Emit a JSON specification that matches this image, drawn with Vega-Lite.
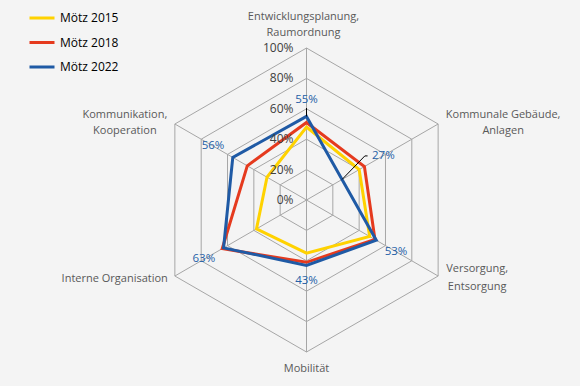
{
  "$schema": "https://vega.github.io/schema/vega-lite/v6.json",
  "width": 580,
  "height": 386,
  "autosize": {"type": "none"},
  "padding": 0,
  "background": "#F4F4F4",
  "config": {"view": {"stroke": null}, "font": "Open Sans"},
  "datasets": {
    "scores": [
      {"series": "Mötz 2015", "idx": 0, "value": 0.48},
      {"series": "Mötz 2015", "idx": 1, "value": 0.40},
      {"series": "Mötz 2015", "idx": 2, "value": 0.48},
      {"series": "Mötz 2015", "idx": 3, "value": 0.35},
      {"series": "Mötz 2015", "idx": 4, "value": 0.38},
      {"series": "Mötz 2015", "idx": 5, "value": 0.30},
      {"series": "Mötz 2018", "idx": 0, "value": 0.51},
      {"series": "Mötz 2018", "idx": 1, "value": 0.44},
      {"series": "Mötz 2018", "idx": 2, "value": 0.52},
      {"series": "Mötz 2018", "idx": 3, "value": 0.41},
      {"series": "Mötz 2018", "idx": 4, "value": 0.64},
      {"series": "Mötz 2018", "idx": 5, "value": 0.45},
      {"series": "Mötz 2022", "idx": 0, "value": 0.55},
      {"series": "Mötz 2022", "idx": 1, "value": 0.27},
      {"series": "Mötz 2022", "idx": 2, "value": 0.53},
      {"series": "Mötz 2022", "idx": 3, "value": 0.43},
      {"series": "Mötz 2022", "idx": 4, "value": 0.63},
      {"series": "Mötz 2022", "idx": 5, "value": 0.56}
    ],
    "axes": [
      {"idx": 0, "label": "Entwicklungsplanung,\nRaumordnung"},
      {"idx": 1, "label": "Kommunale Gebäude,\nAnlagen"},
      {"idx": 2, "label": "Versorgung,\nEntsorgung"},
      {"idx": 3, "label": "Mobilität"},
      {"idx": 4, "label": "Interne Organisation"},
      {"idx": 5, "label": "Kommunikation,\nKooperation"}
    ],
    "rings": [
      {"level": 0.2, "k": [0, 1, 2, 3, 4, 5]},
      {"level": 0.4, "k": [0, 1, 2, 3, 4, 5]},
      {"level": 0.6, "k": [0, 1, 2, 3, 4, 5]},
      {"level": 0.8, "k": [0, 1, 2, 3, 4, 5]},
      {"level": 1.0, "k": [0, 1, 2, 3, 4, 5]}
    ],
    "ticks": [
      {"level": 0}, {"level": 0.2}, {"level": 0.4}, {"level": 0.6}, {"level": 0.8}, {"level": 1.0}
    ]
  },
  "encoding": {
    "x": {"field": "px", "type": "quantitative", "scale": {"domain": [-2.01645, 1.79934], "nice": false, "zero": false}, "axis": null},
    "y": {"field": "py", "type": "quantitative", "scale": {"domain": [-1.22368, 1.31579], "nice": false, "zero": false}, "axis": null}
  },
  "layer": [
    {
      "data": {"name": "rings"},
      "transform": [
        {"flatten": ["k"]},
        {"calculate": "datum.level * sin(datum.k * PI / 3)", "as": "px"},
        {"calculate": "datum.level * cos(datum.k * PI / 3)", "as": "py"}
      ],
      "mark": {"type": "line", "interpolate": "linear-closed", "stroke": "#A6A6A6", "strokeWidth": 1},
      "encoding": {"detail": {"field": "level", "type": "nominal"}, "order": {"field": "k", "type": "quantitative"}}
    },
    {
      "data": {"name": "axes"},
      "transform": [
        {"calculate": "0", "as": "px"},
        {"calculate": "0", "as": "py"},
        {"calculate": "sin(datum.idx * PI / 3)", "as": "px2"},
        {"calculate": "cos(datum.idx * PI / 3)", "as": "py2"}
      ],
      "mark": {"type": "rule", "stroke": "#A6A6A6", "strokeWidth": 1},
      "encoding": {"x2": {"field": "px2"}, "y2": {"field": "py2"}}
    },
    {
      "data": {"name": "scores"},
      "transform": [
        {"calculate": "datum.value * sin(datum.idx * PI / 3)", "as": "px"},
        {"calculate": "datum.value * cos(datum.idx * PI / 3)", "as": "py"}
      ],
      "mark": {"type": "line", "interpolate": "linear-closed", "strokeWidth": 3},
      "encoding": {
        "order": {"field": "idx", "type": "quantitative"},
        "color": {
          "field": "series", "type": "nominal",
          "scale": {"domain": ["Mötz 2015", "Mötz 2018", "Mötz 2022"], "range": ["#FFD200", "#E53A1E", "#1F5AA5"]},
          "legend": {
            "orient": "none", "legendX": 28, "legendY": 4, "title": null,
            "symbolType": "stroke", "symbolSize": 625, "symbolStrokeWidth": 3,
            "labelFontSize": 12, "labelColor": "#000000", "labelFont": "Open Sans",
            "padding": 0, "rowPadding": 4.5, "labelOffset": 4
          }
        }
      }
    },
    {
      "data": {"name": "ticks"},
      "transform": [
        {"calculate": "0", "as": "px"},
        {"calculate": "datum.level", "as": "py"}
      ],
      "mark": {"type": "text", "align": "right", "baseline": "middle", "dx": -13, "fontSize": 12, "color": "#404040"},
      "encoding": {"text": {"field": "level", "type": "quantitative", "format": ".0%"}}
    },
    {
      "data": {"name": "axes"},
      "transform": [
        {"filter": "datum.idx == 0"},
        {"calculate": "sin(datum.idx * PI / 3)", "as": "px"},
        {"calculate": "cos(datum.idx * PI / 3)", "as": "py"}
      ],
      "mark": {"type": "text", "align": "center", "baseline": "top", "dx": -3, "dy": -37, "fontSize": 11, "lineHeight": 16, "lineBreak": "\n", "color": "#595959"},
      "encoding": {"text": {"field": "label", "type": "nominal"}}
    },
    {
      "data": {"name": "axes"},
      "transform": [
        {"filter": "datum.idx == 1"},
        {"calculate": "sin(datum.idx * PI / 3)", "as": "px"},
        {"calculate": "cos(datum.idx * PI / 3)", "as": "py"}
      ],
      "mark": {"type": "text", "align": "center", "baseline": "top", "dx": 65, "dy": -15, "fontSize": 11, "lineHeight": 16, "lineBreak": "\n", "color": "#595959"},
      "encoding": {"text": {"field": "label", "type": "nominal"}}
    },
    {
      "data": {"name": "axes"},
      "transform": [
        {"filter": "datum.idx == 2"},
        {"calculate": "sin(datum.idx * PI / 3)", "as": "px"},
        {"calculate": "cos(datum.idx * PI / 3)", "as": "py"}
      ],
      "mark": {"type": "text", "align": "center", "baseline": "top", "dx": 39, "dy": -13, "fontSize": 11, "lineHeight": 18, "lineBreak": "\n", "color": "#595959"},
      "encoding": {"text": {"field": "label", "type": "nominal"}}
    },
    {
      "data": {"name": "axes"},
      "transform": [
        {"filter": "datum.idx == 3"},
        {"calculate": "sin(datum.idx * PI / 3)", "as": "px"},
        {"calculate": "cos(datum.idx * PI / 3)", "as": "py"}
      ],
      "mark": {"type": "text", "align": "center", "baseline": "top", "dy": 11, "fontSize": 11, "color": "#595959"},
      "encoding": {"text": {"field": "label", "type": "nominal"}}
    },
    {
      "data": {"name": "axes"},
      "transform": [
        {"filter": "datum.idx == 4"},
        {"calculate": "sin(datum.idx * PI / 3)", "as": "px"},
        {"calculate": "cos(datum.idx * PI / 3)", "as": "py"}
      ],
      "mark": {"type": "text", "align": "right", "baseline": "middle", "dx": -7, "dy": 3, "fontSize": 11, "color": "#595959"},
      "encoding": {"text": {"field": "label", "type": "nominal"}}
    },
    {
      "data": {"name": "axes"},
      "transform": [
        {"filter": "datum.idx == 5"},
        {"calculate": "sin(datum.idx * PI / 3)", "as": "px"},
        {"calculate": "cos(datum.idx * PI / 3)", "as": "py"}
      ],
      "mark": {"type": "text", "align": "center", "baseline": "top", "dx": -50, "dy": -15, "fontSize": 11, "lineHeight": 16, "lineBreak": "\n", "color": "#595959"},
      "encoding": {"text": {"field": "label", "type": "nominal"}}
    },
    {
      "data": {"name": "scores"},
      "transform": [
        {"filter": "datum.series == 'Mötz 2022' && datum.idx != 1"},
        {"calculate": "datum.value + (datum.idx % 3 == 0 ? 0.105 : 0.15)", "as": "lr"},
        {"calculate": "datum.lr * sin(datum.idx * PI / 3)", "as": "px"},
        {"calculate": "datum.lr * cos(datum.idx * PI / 3)", "as": "py"}
      ],
      "mark": {"type": "text", "align": "center", "baseline": "middle", "fontSize": 11.5, "color": "#2460A7"},
      "encoding": {"text": {"field": "value", "type": "quantitative", "format": ".0%"}}
    },
    {
      "data": {"name": "scores"},
      "transform": [
        {"filter": "datum.series == 'Mötz 2022' && datum.idx == 1"},
        {"calculate": "datum.value * sin(datum.idx * PI / 3)", "as": "px"},
        {"calculate": "datum.value * cos(datum.idx * PI / 3)", "as": "py"}
      ],
      "mark": {"type": "text", "align": "left", "baseline": "middle", "dx": 30, "dy": -23, "fontSize": 11.5, "color": "#2460A7"},
      "encoding": {"text": {"field": "value", "type": "quantitative", "format": ".0%"}}
    },
    {
      "data": {"name": "scores"},
      "transform": [
        {"filter": "datum.series == 'Mötz 2022' && datum.idx == 1"},
        {"calculate": "datum.value * sin(datum.idx * PI / 3)", "as": "px"},
        {"calculate": "datum.value * cos(datum.idx * PI / 3)", "as": "py"},
        {"calculate": "datum.px + 0.15", "as": "px2"},
        {"calculate": "datum.py + 0.155", "as": "py2"}
      ],
      "mark": {"type": "rule", "stroke": "#000000", "strokeWidth": 1},
      "encoding": {"x2": {"field": "px2"}, "y2": {"field": "py2"}}
    },
    {
      "data": {"name": "scores"},
      "transform": [
        {"filter": "datum.series == 'Mötz 2022' && datum.idx == 1"},
        {"calculate": "datum.value * sin(datum.idx * PI / 3) + 0.15", "as": "px"},
        {"calculate": "datum.value * cos(datum.idx * PI / 3) + 0.155", "as": "py"},
        {"calculate": "datum.px + 0.018", "as": "px2"}
      ],
      "mark": {"type": "rule", "stroke": "#000000", "strokeWidth": 1},
      "encoding": {"x2": {"field": "px2"}}
    },
    {
      "data": {"name": "scores"},
      "transform": [
        {"filter": "datum.series == 'Mötz 2022' && datum.idx == 0"},
        {"calculate": "0", "as": "px"},
        {"calculate": "datum.value", "as": "py"},
        {"calculate": "datum.value + 0.055", "as": "py2"}
      ],
      "mark": {"type": "rule", "stroke": "#000000", "strokeWidth": 1},
      "encoding": {"y2": {"field": "py2"}}
    }
  ]
}
